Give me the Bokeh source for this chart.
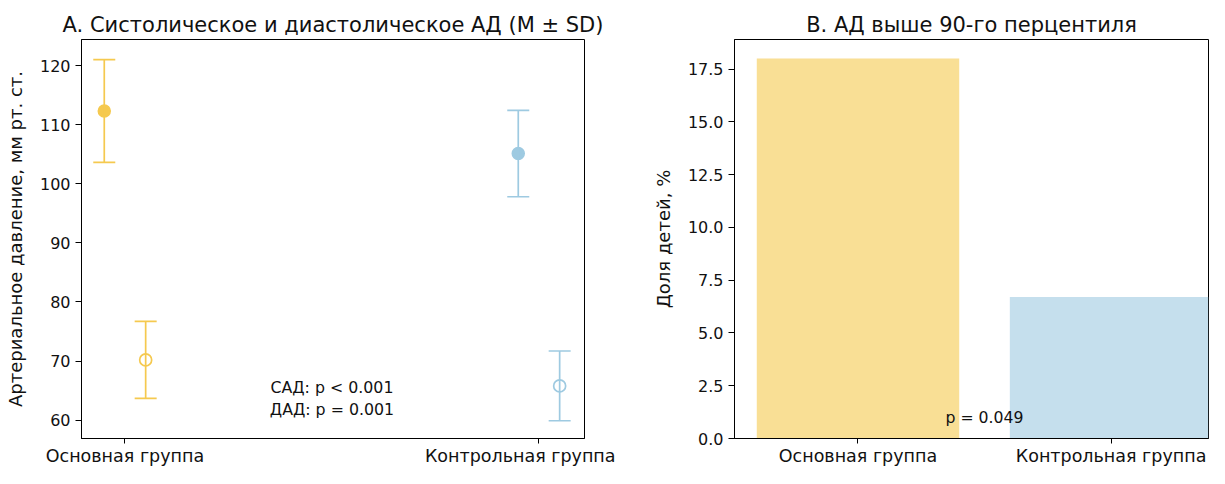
from bokeh.plotting import figure
from bokeh.layouts import row
from bokeh.models import (ColumnDataSource, Whisker, TeeHead, FixedTicker,
                          Range1d, NumeralTickFormatter)
from bokeh.embed import file_html
from bokeh.resources import INLINE
from bokeh.core.properties import value

# ---------------- data ----------------
groups = ["Основная группа", "Контрольная группа"]
sad_mean = [112.3, 105.1]
sad_sd = [8.7, 7.3]
dad_mean = [70.2, 65.8]
dad_sd = [6.5, 5.9]
pct_above_90 = [18.0, 6.7]
colors = ["#F5C94F", "#9ECAE1"]
ticks_a = [60, 70, 80, 90, 100, 110, 120]
ticks_b = [0, 2.5, 5.0, 7.5, 10.0, 12.5, 15.0, 17.5]
stats_text_a = "САД: p < 0.001\nДАД: p = 0.001"
stats_text_b = "p = 0.049"
title_a = "A. Систолическое и диастолическое АД (M ± SD)"
title_b = "B. АД выше 90-го перцентиля"
ylabel_a = "Артериальное давление, мм рт. ст."
ylabel_b = "Доля детей, %"

FONT = "DejaVu Sans"
TXT = "#111111"
idx = list(range(len(groups)))
dodge = 0.05


def style(p):
    p.title.align = "center"
    p.title.text_font = FONT
    p.title.text_font_size = "21px"
    p.title.text_font_style = "normal"
    p.title.text_color = TXT
    p.title.standoff = 5
    p.xgrid.visible = False
    p.ygrid.visible = False
    p.outline_line_color = "#000000"
    p.outline_line_width = 1
    p.outline_line_alpha = 1
    for ax in (p.xaxis[0], p.yaxis[0]):
        ax.axis_line_color = "#000000"
        ax.axis_line_width = 1
        ax.major_tick_line_color = "#000000"
        ax.major_tick_line_width = 1
        ax.major_tick_out = 6
        ax.major_tick_in = 0
        ax.minor_tick_line_color = None
        ax.major_label_text_font = FONT
        ax.major_label_text_color = TXT
        ax.axis_label_text_font = FONT
        ax.axis_label_text_font_style = "normal"
        ax.axis_label_text_font_size = "18px"
        ax.axis_label_text_color = TXT
        ax.major_label_standoff = 5
    p.xaxis.major_tick_out = 5
    p.xaxis.major_label_standoff = 2
    p.yaxis.major_label_text_font_size = "16px"
    p.xaxis.major_label_text_font_size = "17.5px"
    p.xaxis.ticker = FixedTicker(ticks=idx)
    p.xaxis.major_label_overrides = {i: g for i, g in zip(idx, groups)}
    p.background_fill_color = "white"
    p.border_fill_color = "white"


# ---------------- panel A ----------------
ya0, ya1 = 56.9, 124.4
pA = figure(width=615, height=468, x_range=Range1d(-0.105, 1.11),
            y_range=Range1d(ya0, ya1), output_backend="svg",
            toolbar_location=None, title=title_a,
            min_border_left=81, min_border_right=31, min_border_top=39,
            min_border_bottom=0)
style(pA)
pA.yaxis.ticker = FixedTicker(ticks=ticks_a)
pA.yaxis.axis_label = ylabel_a
pA.yaxis.axis_label_standoff = 11

for i, c in zip(idx, colors):
    xs = [i - dodge, i + dodge]
    ms = [sad_mean[i], dad_mean[i]]
    sds = [sad_sd[i], dad_sd[i]]
    src = ColumnDataSource(dict(x=xs, upper=[m + s for m, s in zip(ms, sds)],
                                lower=[m - s for m, s in zip(ms, sds)]))
    w = Whisker(source=src, base="x", upper="upper", lower="lower",
                dimension="height", line_color=c, line_width=1.7,
                upper_head=TeeHead(size=22, line_color=c, line_width=1.7),
                lower_head=TeeHead(size=22, line_color=c, line_width=1.7),
                level="glyph")
    pA.add_layout(w)
    pA.scatter(x=[xs[0]], y=[ms[0]], size=12, fill_color=c, line_color=c,
               line_width=1.5)
    pA.scatter(x=[xs[1]], y=[ms[1]], size=12, fill_color="white",
               line_color=c, line_width=1.7)

pA.text(x=[0.5], y=[ya0 + 0.05 * (ya1 - ya0)], text=[stats_text_a],
        text_align="center", text_baseline="bottom",
        text_font=value(FONT), text_font_size="15.8px", text_color=TXT,
        text_line_height=1.15)

# ---------------- panel B ----------------
yb1 = max(pct_above_90) * 1.05
pB = figure(width=594, height=468, x_range=Range1d(-0.488, 1.385),
            y_range=Range1d(0, yb1), output_backend="svg",
            toolbar_location=None, title=title_b,
            min_border_left=119, min_border_right=1, min_border_top=39,
            min_border_bottom=0)
style(pB)
pB.yaxis.ticker = FixedTicker(ticks=ticks_b)
pB.yaxis.formatter = NumeralTickFormatter(format="0.0")
pB.yaxis.axis_label = ylabel_b
pB.yaxis.axis_label_standoff = 11

pB.vbar(x=idx, top=pct_above_90, width=0.8, fill_color=colors,
        fill_alpha=0.6, line_color=None)
pB.text(x=[0.5], y=[1.0], text=[stats_text_b], text_align="center",
        text_baseline="alphabetic", text_font=value(FONT),
        text_font_size="15.7px", text_color=TXT)

layout = row(pA, pB)
open("out.html", "w").write(file_html(layout, INLINE))
